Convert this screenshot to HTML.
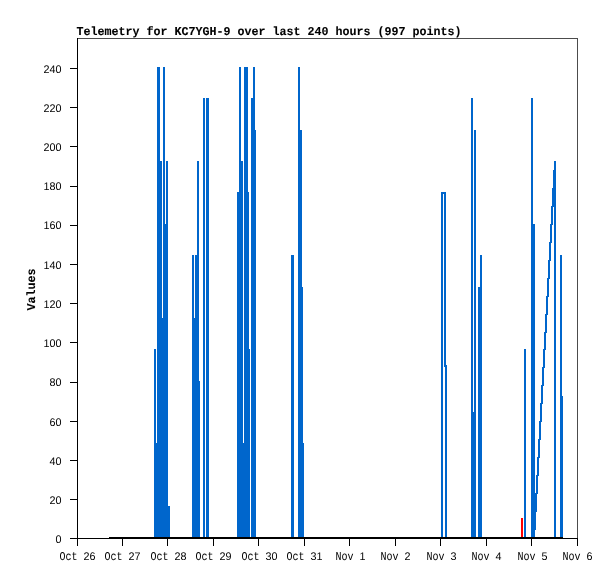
<!DOCTYPE html>
<html lang="en">
<head>
<meta charset="utf-8">
<title>Telemetry for KC7YGH-9 over last 240 hours (997 points)</title>
<style>
html,body{margin:0;padding:0;background:#fff;}
body{width:615px;height:579px;overflow:hidden;}
svg{display:block;}
text{font-family:"Liberation Mono","DejaVu Sans Mono",monospace;fill:#000;text-rendering:geometricPrecision;}
.s{font-size:12px;}
.d{font-family:"Liberation Sans","DejaVu Sans",sans-serif;font-size:11px;}
.b{font-size:12px;font-weight:bold;stroke:#000;stroke-width:0.1px;}
.v{stroke-width:0.1px;}
</style>
</head>
<body>
<svg width="615" height="579" viewBox="0 0 615 579">
<rect x="0" y="0" width="615" height="579" fill="#fff"/>
<g shape-rendering="crispEdges">
<rect x="154" y="349" width="2" height="188" fill="#0066CC"/>
<rect x="156" y="443" width="1" height="94" fill="#0066CC"/>
<rect x="157" y="67" width="3" height="470" fill="#0066CC"/>
<rect x="160" y="161" width="2" height="376" fill="#0066CC"/>
<rect x="162" y="318" width="1" height="219" fill="#0066CC"/>
<rect x="163" y="67" width="2" height="470" fill="#0066CC"/>
<rect x="165" y="224" width="1" height="313" fill="#0066CC"/>
<rect x="166" y="161" width="2" height="376" fill="#0066CC"/>
<rect x="168" y="506" width="2" height="31" fill="#0066CC"/>
<rect x="192" y="255" width="2" height="282" fill="#0066CC"/>
<rect x="194" y="318" width="1" height="219" fill="#0066CC"/>
<rect x="195" y="255" width="2" height="282" fill="#0066CC"/>
<rect x="197" y="161" width="2" height="376" fill="#0066CC"/>
<rect x="199" y="381" width="1" height="156" fill="#0066CC"/>
<rect x="203" y="98" width="2" height="439" fill="#0066CC"/>
<rect x="206" y="98" width="3" height="439" fill="#0066CC"/>
<rect x="237" y="192" width="2" height="345" fill="#0066CC"/>
<rect x="239" y="67" width="2" height="470" fill="#0066CC"/>
<rect x="241" y="161" width="2" height="376" fill="#0066CC"/>
<rect x="243" y="443" width="1" height="94" fill="#0066CC"/>
<rect x="244" y="67" width="4" height="470" fill="#0066CC"/>
<rect x="248" y="192" width="1" height="345" fill="#0066CC"/>
<rect x="249" y="349" width="1" height="188" fill="#0066CC"/>
<rect x="251" y="98" width="2" height="439" fill="#0066CC"/>
<rect x="253" y="67" width="2" height="470" fill="#0066CC"/>
<rect x="255" y="130" width="1" height="407" fill="#0066CC"/>
<rect x="291" y="255" width="3" height="282" fill="#0066CC"/>
<rect x="298" y="67" width="2" height="470" fill="#0066CC"/>
<rect x="300" y="130" width="2" height="407" fill="#0066CC"/>
<rect x="302" y="287" width="1" height="250" fill="#0066CC"/>
<rect x="303" y="443" width="1" height="94" fill="#0066CC"/>
<rect x="441" y="192" width="2" height="345" fill="#0066CC"/>
<rect x="443" y="192" width="1" height="2" fill="#0066CC"/>
<rect x="444" y="192" width="1" height="175" fill="#0066CC"/>
<rect x="445" y="192" width="1" height="345" fill="#0066CC"/>
<rect x="446" y="365" width="1" height="172" fill="#0066CC"/>
<rect x="471" y="98" width="2" height="439" fill="#0066CC"/>
<rect x="473" y="412" width="1" height="125" fill="#0066CC"/>
<rect x="474" y="130" width="2" height="407" fill="#0066CC"/>
<rect x="478" y="287" width="2" height="250" fill="#0066CC"/>
<rect x="480" y="255" width="2" height="282" fill="#0066CC"/>
<rect x="521" y="518" width="2" height="19" fill="#FF0000"/>
<rect x="524" y="349" width="2" height="188" fill="#0066CC"/>
<rect x="531" y="98" width="2" height="439" fill="#0066CC"/>
<rect x="533" y="224" width="2" height="313" fill="#0066CC"/>
<rect x="535" y="493" width="1" height="37" fill="#0066CC"/>
<rect x="536" y="475" width="1" height="37" fill="#0066CC"/>
<rect x="537" y="457" width="1" height="37" fill="#0066CC"/>
<rect x="538" y="439" width="1" height="37" fill="#0066CC"/>
<rect x="539" y="421" width="1" height="37" fill="#0066CC"/>
<rect x="540" y="403" width="1" height="37" fill="#0066CC"/>
<rect x="541" y="385" width="1" height="37" fill="#0066CC"/>
<rect x="542" y="367" width="1" height="37" fill="#0066CC"/>
<rect x="543" y="349" width="1" height="37" fill="#0066CC"/>
<rect x="544" y="332" width="1" height="36" fill="#0066CC"/>
<rect x="545" y="314" width="1" height="36" fill="#0066CC"/>
<rect x="546" y="296" width="1" height="37" fill="#0066CC"/>
<rect x="547" y="278" width="1" height="37" fill="#0066CC"/>
<rect x="548" y="260" width="1" height="37" fill="#0066CC"/>
<rect x="549" y="242" width="1" height="37" fill="#0066CC"/>
<rect x="550" y="224" width="1" height="37" fill="#0066CC"/>
<rect x="551" y="206" width="1" height="37" fill="#0066CC"/>
<rect x="552" y="188" width="1" height="37" fill="#0066CC"/>
<rect x="553" y="170" width="1" height="37" fill="#0066CC"/>
<rect x="554" y="161" width="2" height="376" fill="#0066CC"/>
<rect x="560" y="255" width="2" height="282" fill="#0066CC"/>
<rect x="562" y="396" width="1" height="141" fill="#0066CC"/>
<rect x="77" y="38" width="501" height="1" fill="#4c4c4c"/>
<rect x="577" y="38" width="1" height="500" fill="#4c4c4c"/>
<rect x="77" y="38" width="1" height="508" fill="#000"/>
<rect x="70" y="538" width="508" height="1" fill="#000"/>
<rect x="109" y="537" width="454" height="2" fill="#000"/>
<rect x="70" y="499" width="7" height="1" fill="#000"/>
<rect x="70" y="460" width="7" height="1" fill="#000"/>
<rect x="70" y="421" width="7" height="1" fill="#000"/>
<rect x="70" y="382" width="7" height="1" fill="#000"/>
<rect x="70" y="342" width="7" height="1" fill="#000"/>
<rect x="70" y="303" width="7" height="1" fill="#000"/>
<rect x="70" y="264" width="7" height="1" fill="#000"/>
<rect x="70" y="225" width="7" height="1" fill="#000"/>
<rect x="70" y="186" width="7" height="1" fill="#000"/>
<rect x="70" y="146" width="7" height="1" fill="#000"/>
<rect x="70" y="107" width="7" height="1" fill="#000"/>
<rect x="70" y="68" width="7" height="1" fill="#000"/>
<rect x="122" y="538" width="1" height="8" fill="#000"/>
<rect x="167" y="538" width="1" height="8" fill="#000"/>
<rect x="213" y="538" width="1" height="8" fill="#000"/>
<rect x="258" y="538" width="1" height="8" fill="#000"/>
<rect x="304" y="538" width="1" height="8" fill="#000"/>
<rect x="349" y="538" width="1" height="8" fill="#000"/>
<rect x="395" y="538" width="1" height="8" fill="#000"/>
<rect x="440" y="538" width="1" height="8" fill="#000"/>
<rect x="486" y="538" width="1" height="8" fill="#000"/>
<rect x="531" y="538" width="1" height="8" fill="#000"/>
<rect x="577" y="538" width="1" height="8" fill="#000"/>
</g>
<g class="s">
<text class="d" x="55.5" y="543" textLength="6" lengthAdjust="spacingAndGlyphs">0</text>
<text class="d" x="49.5" y="504" textLength="12" lengthAdjust="spacingAndGlyphs">20</text>
<text class="d" x="49.5" y="465" textLength="12" lengthAdjust="spacingAndGlyphs">40</text>
<text class="d" x="49.5" y="426" textLength="12" lengthAdjust="spacingAndGlyphs">60</text>
<text class="d" x="49.5" y="386" textLength="12" lengthAdjust="spacingAndGlyphs">80</text>
<text class="d" x="43.5" y="347" textLength="18" lengthAdjust="spacingAndGlyphs">100</text>
<text class="d" x="43.5" y="308" textLength="18" lengthAdjust="spacingAndGlyphs">120</text>
<text class="d" x="43.5" y="269" textLength="18" lengthAdjust="spacingAndGlyphs">140</text>
<text class="d" x="43.5" y="229" textLength="18" lengthAdjust="spacingAndGlyphs">160</text>
<text class="d" x="43.5" y="190" textLength="18" lengthAdjust="spacingAndGlyphs">180</text>
<text class="d" x="43.5" y="151" textLength="18" lengthAdjust="spacingAndGlyphs">200</text>
<text class="d" x="43.5" y="112" textLength="18" lengthAdjust="spacingAndGlyphs">220</text>
<text class="d" x="43.5" y="73" textLength="18" lengthAdjust="spacingAndGlyphs">240</text>
<text y="560"><tspan x="59.5" textLength="18" lengthAdjust="spacingAndGlyphs">Oct</tspan> <tspan class="d" x="83.5" textLength="12" lengthAdjust="spacingAndGlyphs">26</tspan></text>
<text y="560"><tspan x="104.5" textLength="18" lengthAdjust="spacingAndGlyphs">Oct</tspan> <tspan class="d" x="128.5" textLength="12" lengthAdjust="spacingAndGlyphs">27</tspan></text>
<text y="560"><tspan x="150.5" textLength="18" lengthAdjust="spacingAndGlyphs">Oct</tspan> <tspan class="d" x="174.5" textLength="12" lengthAdjust="spacingAndGlyphs">28</tspan></text>
<text y="560"><tspan x="195.5" textLength="18" lengthAdjust="spacingAndGlyphs">Oct</tspan> <tspan class="d" x="219.5" textLength="12" lengthAdjust="spacingAndGlyphs">29</tspan></text>
<text y="560"><tspan x="241.5" textLength="18" lengthAdjust="spacingAndGlyphs">Oct</tspan> <tspan class="d" x="265.5" textLength="12" lengthAdjust="spacingAndGlyphs">30</tspan></text>
<text y="560"><tspan x="286.5" textLength="18" lengthAdjust="spacingAndGlyphs">Oct</tspan> <tspan class="d" x="310.5" textLength="12" lengthAdjust="spacingAndGlyphs">31</tspan></text>
<text y="560"><tspan x="335.5" textLength="18" lengthAdjust="spacingAndGlyphs">Nov</tspan> <tspan class="d" x="359.5" textLength="6" lengthAdjust="spacingAndGlyphs">1</tspan></text>
<text y="560"><tspan x="380.5" textLength="18" lengthAdjust="spacingAndGlyphs">Nov</tspan> <tspan class="d" x="404.5" textLength="6" lengthAdjust="spacingAndGlyphs">2</tspan></text>
<text y="560"><tspan x="426.5" textLength="18" lengthAdjust="spacingAndGlyphs">Nov</tspan> <tspan class="d" x="450.5" textLength="6" lengthAdjust="spacingAndGlyphs">3</tspan></text>
<text y="560"><tspan x="471.5" textLength="18" lengthAdjust="spacingAndGlyphs">Nov</tspan> <tspan class="d" x="495.5" textLength="6" lengthAdjust="spacingAndGlyphs">4</tspan></text>
<text y="560"><tspan x="517.5" textLength="18" lengthAdjust="spacingAndGlyphs">Nov</tspan> <tspan class="d" x="541.5" textLength="6" lengthAdjust="spacingAndGlyphs">5</tspan></text>
<text y="560"><tspan x="562.5" textLength="18" lengthAdjust="spacingAndGlyphs">Nov</tspan> <tspan class="d" x="586.5" textLength="6" lengthAdjust="spacingAndGlyphs">6</tspan></text>
</g>
<text class="b" x="76.5" y="35" textLength="385" lengthAdjust="spacingAndGlyphs">Telemetry for KC7YGH-9 over last 240 hours (997 points)</text>
<text class="b v" transform="translate(35 310.5) rotate(-90)" x="0" y="0" textLength="42" lengthAdjust="spacingAndGlyphs">Values</text>
</svg>
</body>
</html>
